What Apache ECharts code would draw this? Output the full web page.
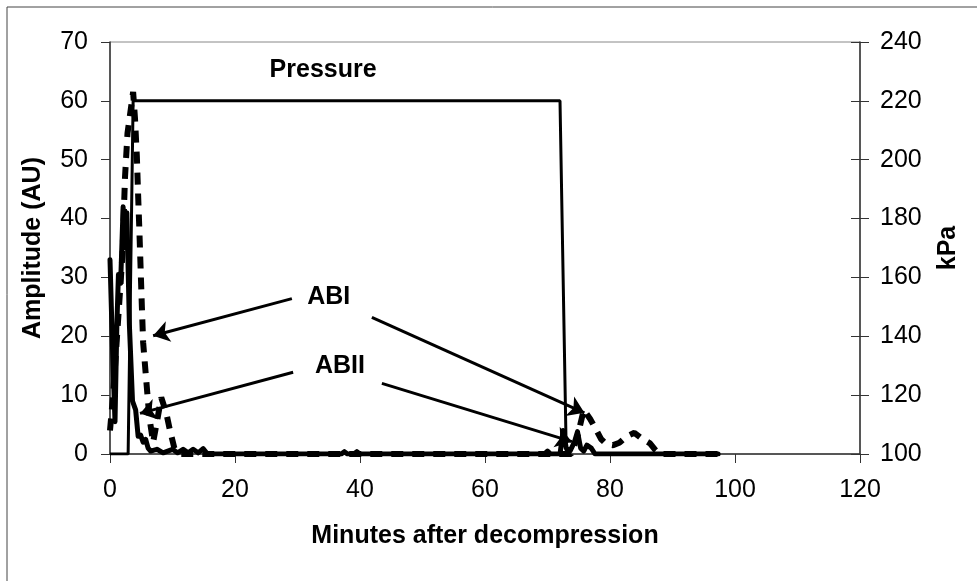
<!DOCTYPE html>
<html>
<head>
<meta charset="utf-8">
<script src="https://cdn.jsdelivr.net/npm/echarts@6/dist/echarts.min.js"></script>
<style>html,body{margin:0;padding:0;background:#fff;}#c{width:977px;height:581px;}</style>
</head>
<body>
<div id="c"></div>
<script>
// Minutes after decompression vs amplitude (AU)
var abiData = [[0,4],[0.5,10],[1,18],[1.5,26],[2,34],[2.4,47],[2.8,54.5],[3.7,61.5],[4.0,57],[4.3,50.5],[4.5,44],[4.7,38],[4.9,31.5],[5.1,25],[5.3,19],[5.8,12.5],[6.3,6.2],[6.9,2],[7.6,6],[8.2,9.6],[9.0,7],[9.6,4],[10.3,1],[11,0],[73.8,0],[74.8,3],[75.8,7.5],[76.8,6],[77.7,4.3],[78.6,2.5],[79.4,1.7],[80.5,1.5],[81.5,1.9],[82.7,3],[83.9,3.6],[85,2.7],[86.4,1.8],[87.3,0.6],[88,0],[97.3,0]];
var abiiData = [[0,33],[0.4,18],[0.8,5.5],[1.1,22],[1.35,30.5],[1.7,29],[2.1,42],[2.4,35],[2.7,41],[3.1,22],[3.6,9],[4.1,7.5],[4.5,3],[4.9,3.2],[5.3,2],[5.7,2.5],[6.1,1],[6.5,0.5],[7.5,0.8],[8.5,0.2],[10,0.8],[10.8,0.2],[11.7,0.8],[12.5,0.2],[13.3,0.8],[14.1,0.2],[14.9,0.9],[15.6,0],[37,0],[37.5,0.4],[38,0],[39,0],[39.5,0.4],[40,0],[69.5,0],[70,0.5],[70.5,0],[72,0],[72.5,4],[73,1],[73.6,0.5],[74.3,2],[74.8,3.8],[75.3,1],[75.8,0.5],[76.3,1.5],[77,1],[77.6,0],[92,0],[92.3,0.3],[92.6,0],[97.3,0]];
// Pressure (kPa)
var pressureData = [[0,100],[2.9,100],[3.7,220],[72.0,220],[73.0,100]];
// annotations (data coordinates)
var labelTexts = [{name:'Pressure', coord:[34.1,65.2]},{name:'ABI', coord:[35.0,26.6]},{name:'ABII', coord:[36.8,15.0]}];
var arrowLines = [
  [[29.1,26.4],[6.9,20.1]],
  [[41.9,23.2],[75.9,7.0]],
  [[29.3,13.9],[4.8,6.9]],
  [[43.5,12.0],[73.9,2.1]]
];
var xTicks = {min:0, max:120, interval:20};
var yLeftTicks = {min:0, max:70, interval:10};
var yRightTicks = {min:100, max:240, interval:20};

var FONT = 'Arial, "Liberation Sans", sans-serif';
var axisColor = '#333';
var chart = echarts.init(document.getElementById('c'), null, {renderer:'canvas'});
chart.setOption({
  animation:false,
  backgroundColor:'#fff',
  graphic:[{type:'rect', shape:{x:7,y:7,width:980,height:590}, style:{fill:'none', stroke:'#444', lineWidth:1}, silent:true}],
  grid:{left:110, right:117, top:42, bottom:127, show:true, borderColor:'#888', borderWidth:1},
  xAxis:{type:'value', min:xTicks.min, max:xTicks.max, interval:xTicks.interval,
    name:'Minutes after decompression', nameLocation:'middle', nameGap:70,
    nameTextStyle:{fontFamily:FONT, fontSize:25, fontWeight:'bold', color:'#000'},
    axisLine:{show:true, onZero:false, lineStyle:{color:axisColor, width:1.5}},
    axisTick:{show:true, inside:false, length:9, lineStyle:{color:axisColor}},
    axisLabel:{fontFamily:FONT, fontSize:25, color:'#000', margin:24},
    splitLine:{show:false}},
  yAxis:[
    {type:'value', position:'left', min:yLeftTicks.min, max:yLeftTicks.max, interval:yLeftTicks.interval,
     name:'Amplitude (AU)', nameLocation:'middle', nameGap:64,
     nameTextStyle:{fontFamily:FONT, fontSize:25, fontWeight:'bold', color:'#000'},
     axisLine:{show:true, lineStyle:{color:axisColor, width:1.5}},
     axisTick:{show:true, inside:false, length:9, lineStyle:{color:axisColor}},
     axisLabel:{fontFamily:FONT, fontSize:25, color:'#000', margin:22},
     splitLine:{show:false}},
    {type:'value', position:'right', min:yRightTicks.min, max:yRightTicks.max, interval:yRightTicks.interval,
     name:'kPa', nameLocation:'middle', nameGap:76,
     nameTextStyle:{fontFamily:FONT, fontSize:25, fontWeight:'bold', color:'#000'},
     axisLine:{show:true, lineStyle:{color:axisColor, width:1.5}},
     axisTick:{show:true, inside:false, length:9, lineStyle:{color:axisColor}},
     axisLabel:{fontFamily:FONT, fontSize:25, color:'#000', margin:20},
     splitLine:{show:false}},
    {type:'value', position:'right', min:yRightTicks.min, max:yRightTicks.max, interval:yRightTicks.interval,
     axisLine:{show:false}, axisLabel:{show:false},
     axisTick:{show:true, inside:true, length:9, lineStyle:{color:axisColor}},
     splitLine:{show:false}}
  ],
  series:[
    {name:'ABI', type:'line', yAxisIndex:0, data:abiData, showSymbol:false, symbol:'none',
     lineStyle:{color:'#000', width:6, type:[12,9], cap:'butt'}, z:2},
    {name:'ABII', type:'line', yAxisIndex:0, data:abiiData, showSymbol:false, symbol:'none',
     lineStyle:{color:'#000', width:5, join:'round', cap:'round'}, z:3,
     markPoint:{symbol:'circle', symbolSize:0, silent:true,
       label:{show:true, position:'inside', formatter:'{b}', fontFamily:FONT, fontSize:25, fontWeight:'bold', color:'#000'},
       data:labelTexts.map(function(d){return {name:d.name, coord:d.coord, value:0};})},
     markLine:{silent:true, symbol:['none','arrow'], symbolSize:16, label:{show:false},
       lineStyle:{color:'#000', width:3, type:'solid'},
       data:arrowLines.map(function(p){return [{coord:p[0]},{coord:p[1]}];})}},
    {name:'Pressure', type:'line', yAxisIndex:1, data:pressureData, showSymbol:false, symbol:'none',
     lineStyle:{color:'#000', width:3}, z:4}
  ]
});
</script>
</body>
</html>
